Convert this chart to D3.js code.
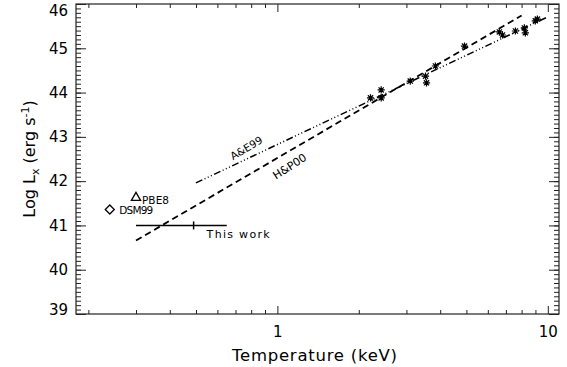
<!DOCTYPE html>
<html><head><meta charset="utf-8">
<script src="https://cdn.jsdelivr.net/npm/d3@7"></script>
<style>
body{margin:0;background:#fff}
text{font-family:"DejaVu Sans",sans-serif;fill:#000}
</style>
</head><body>
<svg id="c" width="567" height="367"></svg>
<script>
// ---- data ----
const xDomain = [0.18, 11];
const yDomain = [39, 46];
const xMajorTicks = [1, 10];
const xMinorTicks = [0.2,0.3,0.4,0.5,0.6,0.7,0.8,0.9,2,3,4,5,6,7,8,9];
const yMajorTicks = [39,40,41,42,43,44,45,46];
const yMinorTicks = d3.range(390, 461).map(d => d / 10);

const clusterT = [2.21,2.42,2.42,3.10,3.53,3.56,3.84,4.92,6.62,6.80,7.59,8.19,8.26,8.99,9.15];
const clusterL = [43.88,44.06,43.88,44.26,44.37,44.22,44.60,45.05,45.37,45.30,45.39,45.46,45.35,45.62,45.66];

const aeLineT = [0.5, 10];
const aeLineL = [41.96, 45.71];
const hpLineT = [0.3, 8.0];
const hpLineL = [40.66, 45.74];

const thisWorkT = 0.49;
const thisWorkTRange = [0.30, 0.65];
const thisWorkL = 41.0;

const pbeT = 0.30, pbeL = 41.65;
const dsmT = 0.24, dsmL = 41.36;

// ---- chart ----
const svg = d3.select('#c');
const x = d3.scaleLog().domain(xDomain).range([76, 559]);
const y = d3.scaleLinear().domain(yDomain).range([314, 4]);
const [x0, x1] = x.range();
const [yb, yt] = y.range();
const axisColor = '#222';

function styleAxis(g){
  g.select('.domain').remove();
  g.selectAll('.tick line').attr('stroke', axisColor).attr('stroke-width', 1);
  g.selectAll('.tick text').attr('fill', '#000');
}

// bottom
svg.append('g').attr('transform', `translate(0,${yb})`)
  .call(d3.axisBottom(x).tickValues(xMajorTicks).tickSize(-8).tickPadding(12).tickFormat(d3.format('d')))
  .call(styleAxis).selectAll('text').style('font-size','15px').style('font-family','DejaVu Sans');
svg.append('g').attr('transform', `translate(0,${yb})`)
  .call(d3.axisBottom(x).tickValues(xMinorTicks).tickSize(-4).tickFormat(''))
  .call(styleAxis);
// top
svg.append('g').attr('transform', `translate(0,${yt})`)
  .call(d3.axisTop(x).tickValues(xMajorTicks).tickSize(-8).tickFormat(''))
  .call(styleAxis);
svg.append('g').attr('transform', `translate(0,${yt})`)
  .call(d3.axisTop(x).tickValues(xMinorTicks).tickSize(-4).tickFormat(''))
  .call(styleAxis);
// left
const gl = svg.append('g').attr('transform', `translate(${x0},0)`)
  .call(d3.axisLeft(y).tickValues(yMajorTicks).tickSize(-10).tickPadding(8).tickFormat(d3.format('d')))
  .call(styleAxis);
gl.selectAll('text').style('font-size','15px').style('font-family','DejaVu Sans');
gl.selectAll('.tick').filter(d => d === yDomain[1]).select('text').attr('y', 6.5);
gl.selectAll('.tick').filter(d => d === yDomain[0]).select('text').attr('y', -4);
svg.append('g').attr('transform', `translate(${x0},0)`)
  .call(d3.axisLeft(y).tickValues(yMinorTicks).tickSize(-5).tickFormat(''))
  .call(styleAxis);
// right
svg.append('g').attr('transform', `translate(${x1},0)`)
  .call(d3.axisRight(y).tickValues(yMajorTicks).tickSize(-10).tickFormat(''))
  .call(styleAxis);
svg.append('g').attr('transform', `translate(${x1},0)`)
  .call(d3.axisRight(y).tickValues(yMinorTicks).tickSize(-5).tickFormat(''))
  .call(styleAxis);

// frame
svg.append('rect').attr('x', x0).attr('y', yt).attr('width', x1 - x0).attr('height', yb - yt)
  .attr('fill', 'none').attr('stroke', axisColor).attr('stroke-width', 1.2);

// axis titles
svg.append('text').attr('x', (x0 + x1) / 2 - 3).attr('y', 361).attr('text-anchor', 'middle')
  .style('font-size', '16.5px').attr('textLength', 165).attr('lengthAdjust','spacing')
  .text('Temperature (keV)');
const yl = svg.append('text').attr('transform', `translate(35,${(yt + yb) / 2})rotate(-90)`)
  .attr('text-anchor', 'middle').style('font-size', '16px');
yl.append('tspan').text('Log L');
yl.append('tspan').attr('dy', 4).style('font-size', '11px').text('x');
yl.append('tspan').attr('dy', -4).text(' (erg s');
yl.append('tspan').attr('dy', -6).style('font-size', '11px').text('-1');
yl.append('tspan').attr('dy', 6).text(')');

// relation lines
const line = d3.line().x(d => x(d[0])).y(d => y(d[1]));
svg.append('path').datum(aeLineT.map((t, i) => [t, aeLineL[i]]))
  .attr('d', line).attr('fill', 'none').attr('stroke', '#000').attr('stroke-width', 1.5)
  .attr('stroke-dasharray', '7,2.5,1,2.5,1,2.5,1,2.5');
svg.append('path').datum(hpLineT.map((t, i) => [t, hpLineL[i]]))
  .attr('d', line).attr('fill', 'none').attr('stroke', '#000').attr('stroke-width', 1.8)
  .attr('stroke-dasharray', '6.5,4');

// line labels
function along(T, Ts, Ls){
  const f = (Math.log10(T) - Math.log10(Ts[0])) / (Math.log10(Ts[1]) - Math.log10(Ts[0]));
  return Ls[0] + f * (Ls[1] - Ls[0]);
}
const aeLabT = 0.78;
svg.append('text')
  .attr('transform', `translate(${x(aeLabT)},${y(along(aeLabT, aeLineT, aeLineL)) - 7})rotate(-31)`)
  .attr('text-anchor', 'middle').style('font-size', '10.5px').text('A&E99');
const hpLabT = 1.13;
svg.append('text')
  .attr('transform', `translate(${x(hpLabT)},${y(along(hpLabT, hpLineT, hpLineL)) + 20})rotate(-33)`)
  .attr('text-anchor', 'middle').style('font-size', '11px').text('H&P00');

// cluster asterisks
const r = 3.6, dd = 2.6;
svg.append('g').selectAll('path').data(clusterT.map((t, i) => [t, clusterL[i]])).join('path')
  .attr('d', d => {
    const cx = x(d[0]), cy = y(d[1]);
    return `M${cx - r},${cy}h${2 * r}M${cx},${cy - r}v${2 * r}M${cx - dd},${cy - dd}l${2 * dd},${2 * dd}M${cx - dd},${cy + dd}l${2 * dd},${-2 * dd}`;
  })
  .attr('stroke', '#000').attr('stroke-width', 1.2).attr('fill', 'none');

// this work
svg.append('line').attr('x1', x(thisWorkTRange[0])).attr('x2', x(thisWorkTRange[1]))
  .attr('y1', y(thisWorkL)).attr('y2', y(thisWorkL)).attr('stroke', '#000').attr('stroke-width', 1.5);
svg.append('line').attr('x1', x(thisWorkT)).attr('x2', x(thisWorkT))
  .attr('y1', y(thisWorkL) - 4).attr('y2', y(thisWorkL) + 4).attr('stroke', '#000').attr('stroke-width', 1.5);
svg.append('text').attr('x', x(thisWorkT) + 13).attr('y', y(thisWorkL) + 13)
  .style('font-size', '11px').attr('textLength', 63).attr('lengthAdjust', 'spacing').text('This work');

// PBE8 triangle
const tx = x(pbeT), ty = y(pbeL);
svg.append('path').attr('d', `M${tx - 4.6},${ty + 3.8}L${tx},${ty - 4.3}L${tx + 4.6},${ty + 3.8}Z`)
  .attr('fill', 'none').attr('stroke', '#000').attr('stroke-width', 1.3);
svg.append('text').attr('x', tx + 6).attr('y', ty + 7.5).style('font-size', '10.5px')
  .attr('textLength', 27).attr('lengthAdjust', 'spacing').text('PBE8');

// DSM99 diamond
const dx = x(dsmT), dy = y(dsmL);
svg.append('path').attr('d', `M${dx},${dy - 4.5}L${dx + 4.5},${dy}L${dx},${dy + 4.5}L${dx - 4.5},${dy}Z`)
  .attr('fill', 'none').attr('stroke', '#000').attr('stroke-width', 1.3);
svg.append('text').attr('x', dx + 9.5).attr('y', dy + 5).style('font-size', '10.5px')
  .attr('textLength', 34).attr('lengthAdjust', 'spacing').text('DSM99');
</script>
</body></html>
